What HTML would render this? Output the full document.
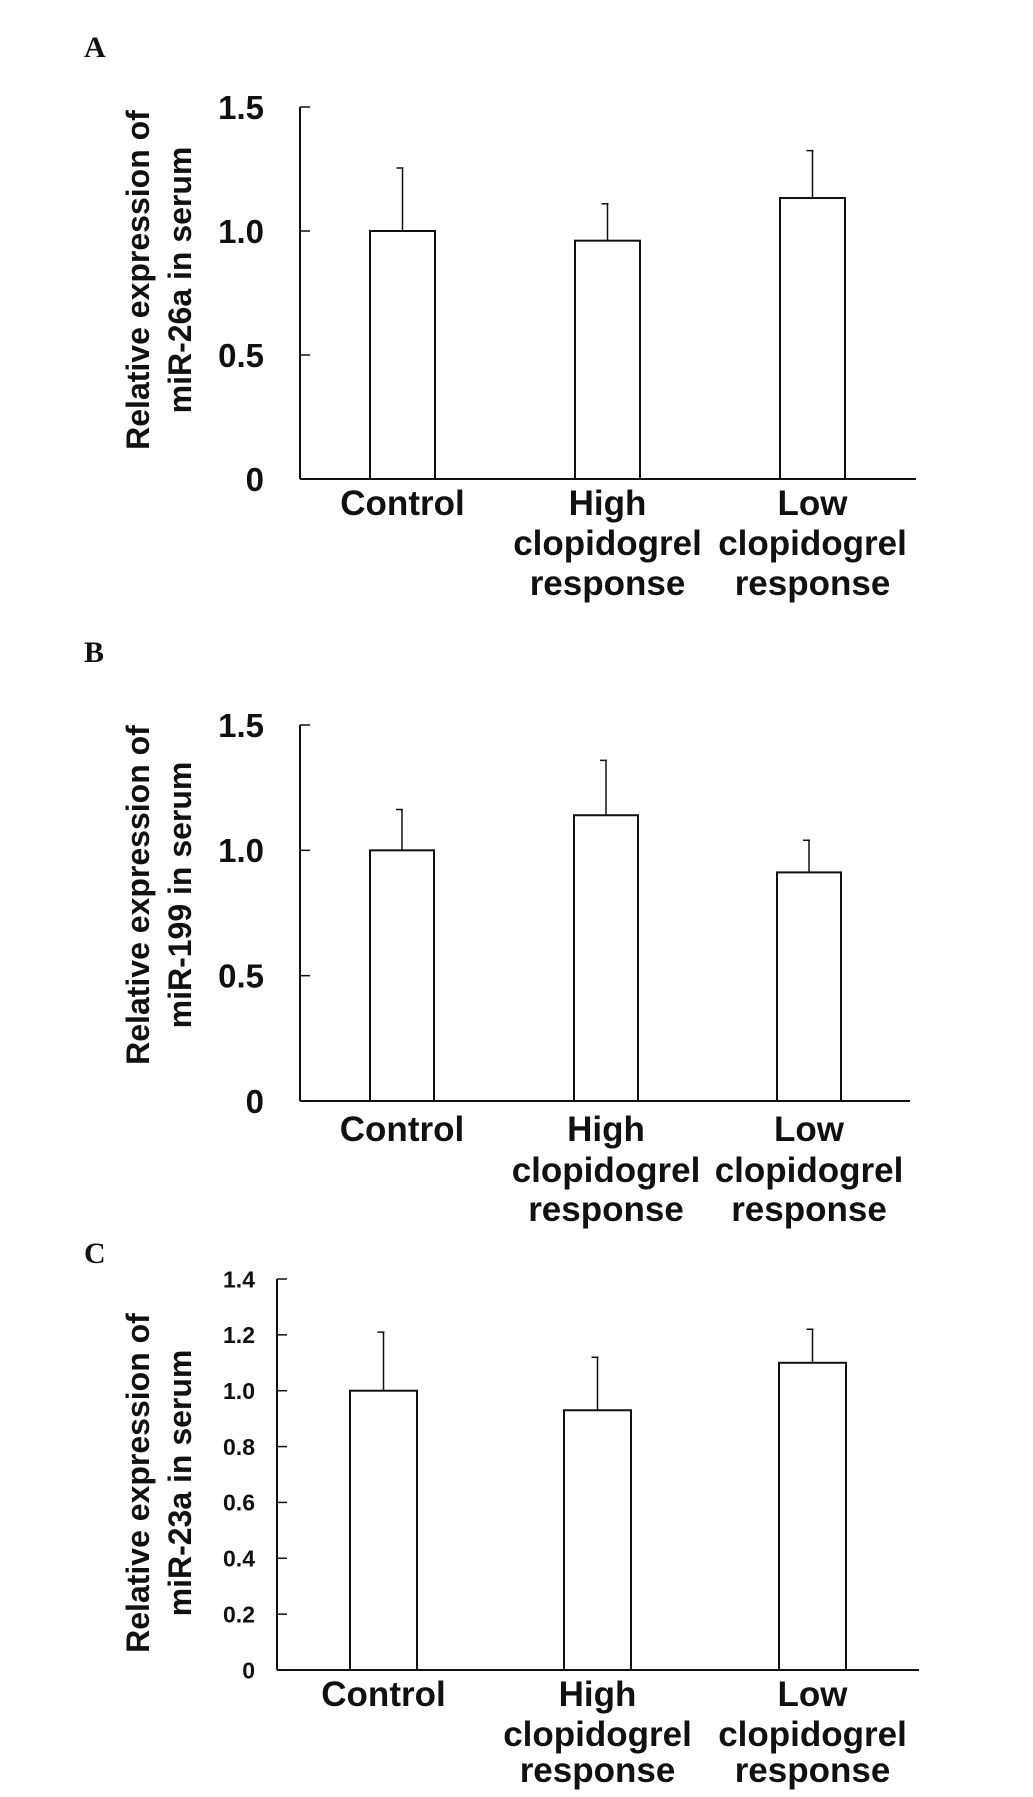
<!DOCTYPE html>
<html><head><meta charset="utf-8"><style>
html,body{margin:0;padding:0;background:#fff;}
svg{display:block;}
text{font-family:"Liberation Sans",Arial,sans-serif;font-weight:bold;fill:#111;}
.pl{font-family:"Liberation Serif","Times New Roman",serif;font-size:30px;}
</style></head><body>
<svg id="fig" width="1033" height="1797" viewBox="0 0 1033 1797" xmlns="http://www.w3.org/2000/svg">
<text class="pl" x="84" y="57">A</text>
<text class="pl" x="84" y="662">B</text>
<text class="pl" x="84" y="1263">C</text>
</svg>
<script>
const categories = [["Control"], ["High","clopidogrel","response"], ["Low","clopidogrel","response"]];
const valuesA = [1.0, 0.961, 1.133];
const errorsA = [1.254, 1.11, 1.324];
const ticksA = ["0","0.5","1.0","1.5"];
const tickValsA = [0,0.5,1.0,1.5];
const valuesB = [1.0, 1.14, 0.912];
const errorsB = [1.163, 1.359, 1.04];
const ticksB = ["0","0.5","1.0","1.5"];
const tickValsB = [0,0.5,1.0,1.5];
const valuesC = [1.0, 0.93, 1.10];
const errorsC = [1.21, 1.12, 1.22];
const ticksC = ["0","0.2","0.4","0.6","0.8","1.0","1.2","1.4"];
const tickValsC = [0,0.2,0.4,0.6,0.8,1.0,1.2,1.4];

const NS = "http://www.w3.org/2000/svg";
const svg = document.getElementById("fig");
function mk(tag, attrs, parent){
  const e = document.createElementNS(NS, tag);
  for (const k in attrs) e.setAttribute(k, attrs[k]);
  (parent||svg).appendChild(e);
  return e;
}
function chart(cfg){
  const g = mk("g", {});
  
  
  const y = v => cfg.y0 - (v/cfg.max)*(cfg.y0-cfg.yTop);
  const ya = mk("line",{x1:cfg.ax,y1:cfg.yTop,x2:cfg.ax,y2:cfg.y0,stroke:"#111","stroke-width":2},g);
  
  
  const xa = mk("line",{x1:cfg.ax,y1:cfg.y0,x2:cfg.xEnd,y2:cfg.y0,stroke:"#111","stroke-width":2},g);
  
  
  cfg.tickVals.forEach((v,i)=>{
    const t = mk("line",{x1:cfg.ax,y1:y(v),x2:cfg.ax+10,y2:y(v),stroke:"#111","stroke-width":1.5},g);
    
    
    const tl = mk("text",{x:cfg.ax-cfg.tOff,y:y(v)+cfg.tfs*0.36,"text-anchor":"end","font-size":cfg.tfs},g);
    tl.textContent = cfg.ticks[i];
    
    
  });
  cfg.values.forEach((v,i)=>{
    const bx = cfg.bars[i], bw = cfg.bw;
    const r = mk("rect",{x:bx,y:y(v),width:bw,height:cfg.y0-y(v),fill:"#fff",stroke:"#111","stroke-width":2},g);
    
    
    const cx = bx + bw/2;
    const e = mk("path",{d:`M${cx},${y(v)} V${y(cfg.errors[i])} M${cx-6},${y(cfg.errors[i])} H${cx+1}`,stroke:"#111","stroke-width":1.5,fill:"none"},g);
    
    
    categories[i].forEach((line,j)=>{
      const tx = mk("text",{x:cx,y:cfg.labY[j],"text-anchor":"middle","font-size":35},g);
      tx.textContent = line;
      
      
    });
  });
  const tt = mk("text",{transform:`translate(${cfg.titleX},${cfg.titleY}) rotate(-90)`,"text-anchor":"middle","font-size":32},g);
  
  
  const s1 = mk("tspan",{x:0,y:0},tt); s1.textContent = "Relative expression of";
  const s2 = mk("tspan",{x:0,y:42},tt); s2.textContent = cfg.title2;
}
chart({name:"chart-a",ax:300,yTop:107,y0:479,xEnd:916,max:1.5,tickVals:tickValsA,ticks:ticksA,tfs:33,tOff:36,
  values:valuesA,errors:errorsA,bars:[370,575,780],bw:65,labY:[515,555,595],
  titleX:149,titleY:280,title2:"miR-26a in serum"});
chart({name:"chart-b",ax:300,yTop:725,y0:1101,xEnd:910,max:1.5,tickVals:tickValsB,ticks:ticksB,tfs:33,tOff:36,
  values:valuesB,errors:errorsB,bars:[370,574,777],bw:64,labY:[1141,1182,1221],
  titleX:149,titleY:895,title2:"miR-199 in serum"});
chart({name:"chart-c",ax:277,yTop:1279,y0:1670,xEnd:919,max:1.4,tickVals:tickValsC,ticks:ticksC,tfs:23,tOff:22,
  values:valuesC,errors:errorsC,bars:[350,564,779],bw:67,labY:[1706,1746,1782],
  titleX:149,titleY:1483,title2:"miR-23a in serum"});
</script>
</body></html>
